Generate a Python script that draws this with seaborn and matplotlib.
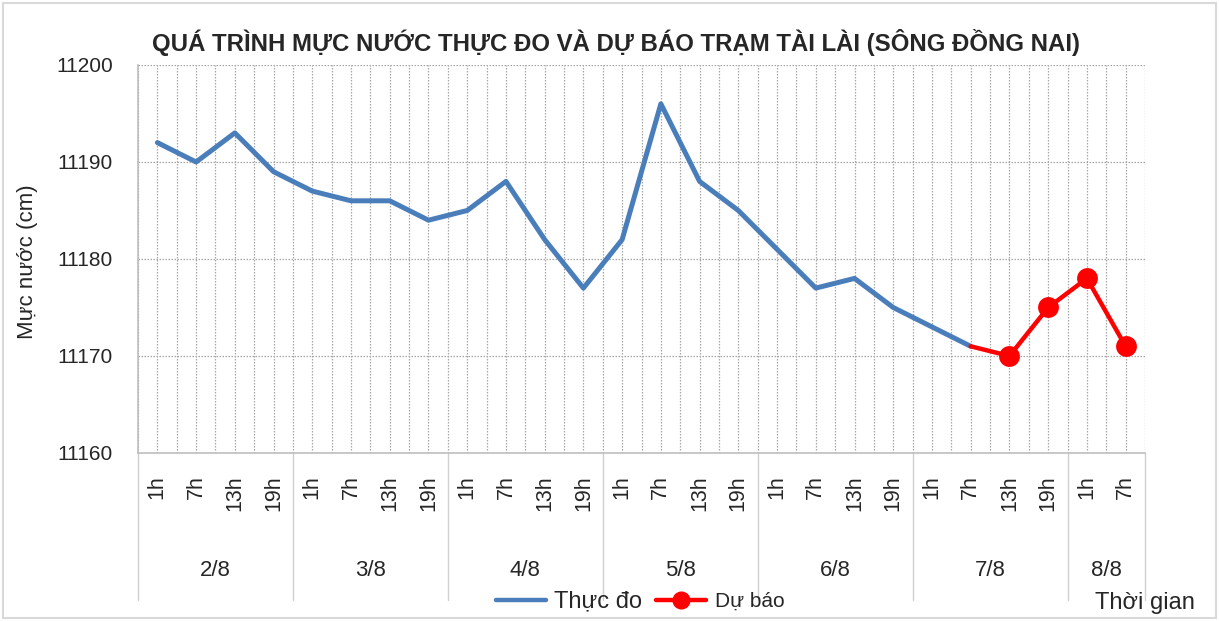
import numpy as np
import pandas as pd
import matplotlib
matplotlib.use("Agg")
import matplotlib.pyplot as plt
import seaborn as sns
from matplotlib.patches import Rectangle
from matplotlib.lines import Line2D
import matplotlib.transforms as mtransforms

# ---- data ----
days = ["2/8", "3/8", "4/8", "5/8", "6/8", "7/8", "8/8"]
hours_per_day = [["1h", "7h", "13h", "19h"]] * 6 + [["1h", "7h"]]
hour_labels = [h for hs in hours_per_day for h in hs]
nan = np.nan
observed = [11192, 11190, 11193, 11189,
            11187, 11186, 11186, 11184,
            11185, 11188, 11182, 11177,
            11182, 11196, 11188, 11185,
            11181, 11177, 11178, 11175,
            11173, 11171, nan, nan,
            nan, nan]
forecast = [nan] * 21 + [11171, 11170, 11175, 11178, 11171]

title = "QUÁ TRÌNH MỰC NƯỚC THỰC ĐO VÀ DỰ BÁO TRẠM TÀI LÀI (SÔNG ĐỒNG NAI)"
ylabel = "Mực nước (cm)"
xlabel = "Thời gian"
series_names = ["Thực đo", "Dự báo"]

df = pd.DataFrame({"pos": np.arange(len(hour_labels)),
                   "obs": observed, "fc": forecast})

# ---- style ----
sns.set_style("white")
plt.rcParams["font.family"] = ["Liberation Sans", "DejaVu Sans"]

W, H = 1219, 621
fig = plt.figure(figsize=(W / 100, H / 100), dpi=100)
L, R, T, B = 138, 1145, 65, 453
ax = fig.add_axes([L / W, 1 - B / H, (R - L) / W, (B - T) / H])

blue = "#4A7EBB"
red = "#FF0000"

sns.lineplot(data=df, x="pos", y="obs", ax=ax, color=blue, lw=3.6, zorder=3)
sns.lineplot(data=df, x="pos", y="fc", ax=ax, color=red, lw=3.2, marker="o",
             markersize=15, markeredgewidth=0, markevery=[1, 2, 3, 4], zorder=4)

n = len(hour_labels)
ax.set_xlim(-0.5, n - 0.5)
ax.set_ylim(11160, 11200)
ax.set_yticks(np.arange(11160, 11201, 10))
ax.set_xticks(np.arange(n))
ax.set_xticks(np.arange(-0.5, n, 1.0), minor=True)
ax.set_xticklabels(hour_labels, rotation=90, va="top", fontsize=15.5)
ax.tick_params(axis="x", which="both", length=0, pad=16)
ax.tick_params(axis="y", length=0, pad=18, labelsize=15)
ax.set_xlabel("")
ax.set_ylabel("")

grid_kw = dict(color="#a6a6a6", linestyle=(0, (1.2, 1.2)), linewidth=0.9)
ax.grid(True, axis="y", **grid_kw)
ax.grid(True, axis="x", which="both", **grid_kw)
ax.set_axisbelow(True)

for s in ["top", "right"]:
    ax.spines[s].set_visible(False)
for s in ["left", "bottom"]:
    ax.spines[s].set_color("#bfbfbf")
    ax.spines[s].set_linewidth(1.2)

# day labels and separators
trans = mtransforms.blended_transform_factory(ax.transData, ax.transAxes)
ph = B - T
start = 0
bounds = [-0.5]
for d, hs in zip(days, hours_per_day):
    centre = start + (len(hs) - 1) / 2
    ax.text(centre, -(571 - B) / ph, d, transform=trans, ha="center", va="center",
            fontsize=16)
    start += len(hs)
    bounds.append(start - 0.5)
for b in bounds:
    ax.add_line(Line2D([b, b], [0, -(600 - B) / ph], transform=trans,
                       color="#d0d0d0", lw=1.0, clip_on=False))

# texts
fig.text(616 / W, 1 - 42 / H, title, ha="center", va="center",
         fontsize=17.3, fontweight="bold")
fig.text(28 / W, 1 - 262 / H, ylabel, rotation=90, ha="center", va="center",
         fontsize=16)
fig.text(1145 / W, 1 - 603 / H, xlabel, ha="center", va="center", fontsize=17)

handles = [Line2D([], [], color=blue, lw=3.2),
           Line2D([], [], color=red, lw=3.2, marker="o", markersize=12)]
leg = fig.legend(handles, series_names, loc="center",
                 bbox_to_anchor=(640 / W, 1 - 601 / H), ncol=2, frameon=False,
                 fontsize=15, handlelength=2.4, handletextpad=0.4,
                 columnspacing=0.7, borderpad=0, borderaxespad=0)
leg.get_texts()[0].set_fontsize(17)

fig.patches.append(Rectangle((3 / W, 3 / H), 1 - 6 / W, 1 - 6 / H,
                             transform=fig.transFigure, fill=False,
                             edgecolor="#d9d9d9", linewidth=1.5))

fig.savefig("out.png", dpi=100)
